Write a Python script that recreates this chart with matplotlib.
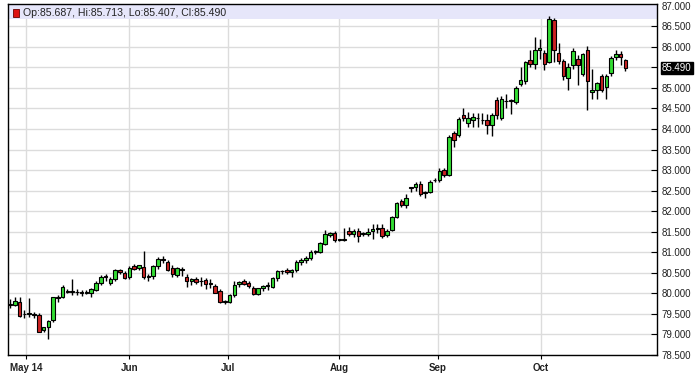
import matplotlib
matplotlib.use("Agg")
import matplotlib.pyplot as plt
from matplotlib.patches import Rectangle

# daily OHLC (late Apr - late Oct)
opens = [79.75, 79.72, 79.80, 79.49, 79.50, 79.50, 79.48, 79.11, 79.18, 79.35,
         79.88, 79.92, 80.06, 80.04, 80.03, 80.04, 80.02, 80.02, 80.09, 80.25,
         80.42, 80.26, 80.35, 80.56, 80.50, 80.40, 80.66, 80.62, 80.65, 80.40,
         80.43, 80.66, 80.84, 80.76, 80.61, 80.45, 80.58, 80.39, 80.30, 80.36,
         80.29, 80.32, 80.24, 80.18, 80.05, 79.80, 79.80, 79.96, 80.22, 80.30,
         80.25, 80.14, 79.99, 80.12, 80.18, 80.15, 80.38, 80.54, 80.56, 80.52,
         80.57, 80.77, 80.82, 80.85, 81.02, 81.00, 81.20, 81.43, 81.46, 81.30,
         81.30, 81.52, 81.44, 81.53, 81.45, 81.45, 81.53, 81.57, 81.59, 81.41,
         81.55, 81.86, 82.24, 82.16, 82.57, 82.58, 82.67, 82.45, 82.47, 82.75,
         82.76, 83.00, 82.88, 83.90, 83.85, 84.35, 84.14, 84.23, 84.26, 84.22,
         84.22, 84.09, 84.71, 84.26, 84.68, 84.68, 84.67, 85.10, 85.16, 85.69,
         85.59, 85.92, 85.85, 85.63, 86.66, 85.85, 85.65, 85.25, 85.55, 85.71,
         85.33, 85.93, 84.90, 84.94, 85.30, 85.02, 85.37, 85.75, 85.83, 85.687]
highs = [79.86, 79.90, 79.91, 79.60, 79.88, 79.55, 79.52, 79.18, 79.35, 79.92,
         79.95, 80.20, 80.10, 80.35, 80.10, 80.08, 80.08, 80.14, 80.30, 80.45,
         80.46, 80.40, 80.60, 80.60, 80.55, 80.66, 80.72, 80.70, 81.03, 80.47,
         80.70, 80.88, 80.90, 80.80, 80.70, 80.65, 80.65, 80.48, 80.38, 80.40,
         80.40, 80.38, 80.35, 80.22, 80.10, 79.85, 79.98, 80.30, 80.30, 80.36,
         80.30, 80.18, 80.14, 80.20, 80.27, 80.40, 80.56, 80.58, 80.62, 80.60,
         80.80, 80.85, 80.90, 81.05, 81.05, 81.25, 81.55, 81.50, 81.52, 81.33,
         81.60, 81.62, 81.56, 81.58, 81.50, 81.58, 81.68, 81.68, 81.68, 81.56,
         81.88, 82.22, 82.30, 82.42, 82.60, 82.70, 82.73, 82.50, 82.75, 82.80,
         83.05, 83.05, 83.85, 83.95, 84.30, 84.52, 84.42, 84.40, 84.38, 84.38,
         84.37, 84.38, 84.78, 84.80, 84.85, 84.72, 85.05, 85.50, 85.66, 85.93,
         86.24, 86.20, 85.92, 86.74, 86.70, 86.10, 85.70, 85.60, 85.97, 85.80,
         85.85, 86.01, 85.47, 85.15, 85.35, 85.33, 85.78, 85.93, 85.90, 85.713]
lows = [79.64, 79.70, 79.42, 79.40, 79.42, 79.40, 79.05, 79.05, 78.90, 79.30,
        79.80, 79.88, 80.00, 79.96, 79.96, 79.93, 79.98, 79.90, 80.05, 80.20,
        80.30, 80.20, 80.30, 80.48, 80.35, 80.36, 80.58, 80.58, 80.35, 80.30,
        80.35, 80.60, 80.75, 80.55, 80.40, 80.40, 80.42, 80.16, 80.20, 80.22,
        80.19, 80.10, 80.12, 80.00, 79.77, 79.74, 79.76, 79.92, 80.15, 80.20,
        80.14, 79.96, 79.96, 80.05, 80.08, 80.12, 80.30, 80.47, 80.48, 80.40,
        80.53, 80.70, 80.75, 80.82, 80.95, 80.98, 81.18, 81.38, 81.25, 81.27,
        81.28, 81.40, 81.38, 81.25, 81.40, 81.40, 81.33, 81.48, 81.35, 81.38,
        81.52, 81.83, 82.10, 82.07, 82.47, 82.50, 82.38, 82.32, 82.45, 82.70,
        82.72, 82.83, 82.85, 83.57, 83.80, 84.20, 84.06, 84.05, 84.05, 84.12,
        83.87, 83.84, 84.25, 84.22, 84.52, 84.37, 84.60, 85.05, 85.10, 85.50,
        85.47, 85.70, 85.44, 85.60, 85.63, 85.58, 85.20, 84.94, 85.45, 85.06,
        85.30, 84.47, 84.74, 84.74, 84.90, 84.74, 85.30, 85.68, 85.55, 85.407]
closes = [79.71, 79.82, 79.46, 79.50, 79.51, 79.48, 79.07, 79.17, 79.33, 79.90,
          79.92, 80.16, 80.04, 80.05, 80.04, 80.00, 80.04, 80.11, 80.25, 80.39,
          80.40, 80.35, 80.57, 80.52, 80.38, 80.62, 80.60, 80.68, 80.40, 80.43,
          80.66, 80.83, 80.80, 80.58, 80.46, 80.62, 80.58, 80.30, 80.36, 80.27,
          80.30, 80.22, 80.24, 80.02, 79.78, 79.79, 79.96, 80.20, 80.28, 80.22,
          80.18, 79.98, 80.12, 80.18, 80.20, 80.38, 80.55, 80.54, 80.51, 80.56,
          80.77, 80.82, 80.87, 81.01, 81.00, 81.22, 81.44, 81.47, 81.29, 81.30,
          81.31, 81.44, 81.53, 81.39, 81.45, 81.50, 81.57, 81.57, 81.40, 81.52,
          81.86, 82.20, 82.14, 82.33, 82.58, 82.65, 82.43, 82.46, 82.72, 82.75,
          82.97, 82.88, 83.81, 83.74, 84.24, 84.28, 84.27, 84.29, 84.26, 84.23,
          84.09, 84.35, 84.33, 84.73, 84.69, 84.70, 85.01, 85.20, 85.63, 85.59,
          85.93, 85.98, 85.59, 86.69, 85.93, 85.66, 85.29, 85.52, 85.91, 85.55,
          85.82, 85.16, 84.96, 85.12, 84.96, 85.30, 85.74, 85.83, 85.75, 85.490]

month_pos = [3.4, 25, 45.6, 69, 89.6, 111.3]
month_labels = ["May 14", "Jun", "Jul", "Aug", "Sep", "Oct"]
price_ticks = [78.5 + 0.5 * i for i in range(18)]

green = "#33dd33"
red = "#cc2222"

fig = plt.figure(figsize=(6.95, 3.77), dpi=100)
ax = fig.add_axes([0.0115, 0.0584, 0.9338, 0.9306])

x = list(range(len(opens)))
cols = [green if c >= o else red for o, c in zip(opens, closes)]
bottoms = [min(o, c) for o, c in zip(opens, closes)]
heights = [max(abs(c - o), 0.012) for o, c in zip(opens, closes)]

ax.vlines(x, lows, highs, color="black", linewidth=1.0, zorder=2)
ax.bar(x, heights, bottom=bottoms, width=0.74, color=cols,
       edgecolor="black", linewidth=0.8, zorder=3)

ax.set_xlim(-0.45, 135.6)
ax.set_ylim(78.5, 87.04)

ax.set_yticks(price_ticks)
ax.set_yticklabels([f"{v:.3f}" for v in price_ticks])
ax.yaxis.tick_right()
ax.tick_params(axis="y", direction="in", length=4, width=0.8, pad=3,
               labelsize=7, labelcolor="#222222")
for lab in ax.get_yticklabels():
    lab.set_family("Liberation Sans")

ax.set_xticks(month_pos)
ax.set_xticklabels(month_labels)
ax.tick_params(axis="x", direction="out", length=3, width=0.8, pad=3,
               labelsize=7, labelcolor="#222222")
for lab in ax.get_xticklabels():
    lab.set_family("Liberation Sans")
    lab.set_fontweight("bold")

ax.grid(True, color="#dcdcdc", linewidth=1.0, zorder=0)
ax.set_axisbelow(True)
for s in ax.spines.values():
    s.set_color("black")
    s.set_linewidth(1.0)

# header band with last bar values
ax.add_patch(Rectangle((0, 0.957), 1, 0.043, transform=ax.transAxes,
                       facecolor="#e6e6fa", edgecolor="none", zorder=1))
ax.add_patch(Rectangle((0.0075, 0.963), 0.009, 0.024, transform=ax.transAxes,
                       facecolor="#dd1111", edgecolor="#660000", linewidth=0.6,
                       zorder=4))
ax.text(0.023, 0.976,
        f"Op:{opens[-1]:.3f}, Hi:{highs[-1]:.3f}, Lo:{lows[-1]:.3f}, Cl:{closes[-1]:.3f}",
        transform=ax.transAxes, fontsize=7.6, family="Liberation Sans",
        color="#222222", va="center", ha="left", zorder=5)

# last close marker on the price axis
ax.annotate(f"{closes[-1]:.3f}", xy=(1, closes[-1]),
            xycoords=("axes fraction", "data"), xytext=(3.6, 0),
            textcoords="offset points", va="center", ha="left",
            fontsize=7, family="Liberation Sans", color="white",
            bbox=dict(boxstyle="square,pad=0.12", facecolor="black",
                      edgecolor="black"), annotation_clip=False)

fig.savefig("out.png", dpi=100)
